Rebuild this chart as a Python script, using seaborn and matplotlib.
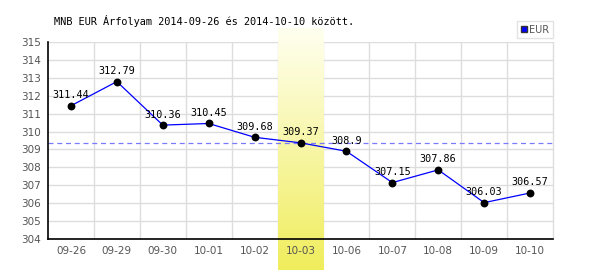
import numpy as np
import pandas as pd
import matplotlib
matplotlib.use("Agg")
import matplotlib.pyplot as plt
from matplotlib.lines import Line2D
import seaborn as sns

dates = ["09-26", "09-29", "09-30", "10-01", "10-02", "10-03",
         "10-06", "10-07", "10-08", "10-09", "10-10"]
rates = [311.44, 312.79, 310.36, 310.45, 309.68, 309.37,
         308.9, 307.15, 307.86, 306.03, 306.57]
labels = ["311.44", "312.79", "310.36", "310.45", "309.68", "309.37",
          "308.9", "307.15", "307.86", "306.03", "306.57"]
highlight = "10-03"
title = "MNB EUR Árfolyam 2014-09-26 és 2014-10-10 között."
series_name = "EUR"
yticks = list(range(304, 316))

sns.set_theme(style="white")
plt.rcParams['font.family'] = ['DejaVu Sans']

df = pd.DataFrame({"pos": np.arange(len(dates)), "date": dates, "rate": rates})

fig = plt.figure(figsize=(6, 2.7), dpi=100)
ax = fig.add_axes([0.08, 0.1148, 0.8417, 0.7296])
ax.set_facecolor("white")
ax.set_axisbelow(False)

ymin, ymax = 304, 315
ax.set_xlim(-0.5, len(dates) - 0.5)
ax.set_ylim(ymin, ymax)

# grid
for y in yticks:
    ax.axhline(y, color="#dddddd", lw=1, zorder=0)
for i in range(len(dates)):
    ax.axvline(i + 0.5, color="#dddddd", lw=1, zorder=0, clip_on=False)

# highlight band with gradient
hi = dates.index(highlight)
grad = np.linspace(0, 1, 256).reshape(-1, 1)
top_c = np.array([1.0, 1.0, 0.94])
bot_c = np.array([0.94, 0.93, 0.36])
img = top_c + (bot_c - top_c) * grad
img = img.reshape(256, 1, 3)
ax.imshow(img, extent=(hi - 0.5, hi + 0.5, 302.27, 315.78), aspect="auto",
          origin="upper", zorder=1, clip_on=False, interpolation="bilinear")
ax.set_xlim(-0.5, len(dates) - 0.5)
ax.set_ylim(ymin, ymax)

# reference dashed line at highlighted value
ax.axhline(rates[hi], color="#7a7aff", lw=0.9, ls=(0, (4, 3)), zorder=2)

sns.lineplot(data=df, x="pos", y="rate", color="#0000ff", lw=0.9, ax=ax,
             zorder=3, legend=False)
sns.scatterplot(data=df, x="pos", y="rate", color="black", s=32, ax=ax,
                zorder=4, legend=False, edgecolor="black", linewidth=0)

for x, y, t in zip(df["pos"], df["rate"], labels):
    ax.annotate(t, (x, y), xytext=(0, 4), textcoords="offset points",
                ha="center", va="bottom", fontsize=7.3,
                family="DejaVu Sans Mono", color="black", zorder=5)

ax.set_xticks(df["pos"])
ax.set_xticklabels(dates)
ax.set_yticks(yticks)
ax.set_yticklabels([str(v) for v in yticks])
ax.tick_params(axis="both", length=0, labelsize=7.5, labelcolor="#555555")
ax.tick_params(axis="x", pad=5)
ax.tick_params(axis="y", pad=5)
ax.set_xlabel("")
ax.set_ylabel("")

for s in ["top", "right"]:
    ax.spines[s].set_visible(False)
ax.spines["left"].set_color("black")
ax.spines["left"].set_linewidth(1.2)
ax.spines["bottom"].set_color("black")
ax.spines["bottom"].set_linewidth(1.2)
ax.spines["left"].set_zorder(6)
ax.spines["bottom"].set_zorder(6)

fig.text(54 / 600, 1 - 21 / 270, title, family="DejaVu Sans Mono",
         fontsize=7.4, color="black", va="center", ha="left")

handle = Line2D([], [], marker="s", color="none", markerfacecolor="#0000ff",
                markeredgecolor="#333333", markersize=5)
leg = ax.legend([handle], [series_name], loc="lower right",
                bbox_to_anchor=(1.0, 1.02), frameon=True, fontsize=7,
                handlelength=0.6, handletextpad=0.3, borderpad=0.35,
                fancybox=False, borderaxespad=0)
leg.get_frame().set_edgecolor("#dddddd")
leg.get_frame().set_linewidth(1)
for t in leg.get_texts():
    t.set_color("#555555")

fig.savefig("out.png", dpi=100, facecolor="white")
